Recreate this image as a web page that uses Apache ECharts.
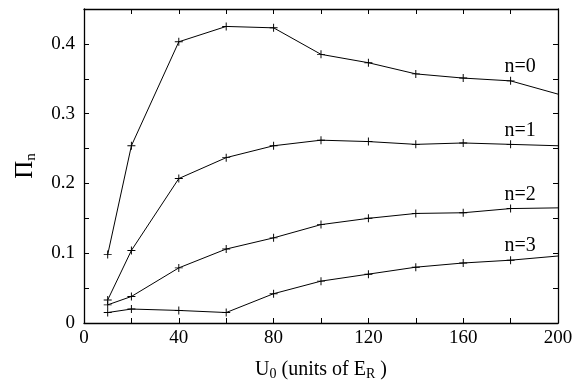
<!DOCTYPE html>
<html><head><meta charset="utf-8">
<script src="https://cdn.jsdelivr.net/npm/echarts@6/dist/echarts.min.js"></script>
<style>html,body{margin:0;padding:0;background:#fff}#c{width:587px;height:386px}</style>
</head><body><div id="c"></div>
<script>
var xValues = [10, 20, 40, 60, 80, 100, 120, 140, 160, 180, 200];
var n0 = [0.098, 0.254, 0.403, 0.425, 0.423, 0.385, 0.373, 0.357, 0.351, 0.347, 0.328];
var n1 = [0.033, 0.104, 0.207, 0.237, 0.254, 0.262, 0.260, 0.256, 0.258, 0.256, 0.254];
var n2 = [0.026, 0.038, 0.079, 0.106, 0.122, 0.141, 0.150, 0.157, 0.158, 0.164, 0.165];
var n3 = [0.015, 0.020, 0.018, 0.015, 0.042, 0.060, 0.070, 0.080, 0.086, 0.090, 0.096];
var seriesNames = ['n=0', 'n=1', 'n=2', 'n=3'];
var xTicks = [0, 40, 80, 120, 160, 200];
var yTicks = [0, 0.1, 0.2, 0.3, 0.4];

var font = 'Liberation Serif';
var cross = 'path://M0,4.4h10v1.2h-10z M4.4,0h1.2v10h-1.2z';
var labelAnchors = [[184, 0.367], [184, 0.275], [184, 0.184], [184, 0.110]];

function pairs(ys){
  return xValues.map(function(x,i){
    var item = {value: [x, ys[i]]};
    if (x === 200) item.symbol = 'none';
    return item;
  });
}
var all = [n0, n1, n2, n3];
var series = all.map(function(ys, k){
  return {
    type: 'line', name: seriesNames[k], data: pairs(ys),
    symbol: cross, symbolSize: 8, showAllSymbol: true,
    lineStyle: {color: '#000', width: 1},
    itemStyle: {color: '#000'},
    animation: false,
    markPoint: {
      symbol: 'circle', symbolSize: 0, silent: true,
      data: [{coord: labelAnchors[k], value: seriesNames[k]}],
      label: {show: true, position: 'inside', formatter: seriesNames[k], color: '#000', fontFamily: font, fontSize: 20}
    }
  };
});

function axisCommon(){
  return {
    axisLine: {show: true, onZero: false, lineStyle: {color: '#000', width: 1.3}},
    axisTick: {show: true, inside: true, length: 5, lineStyle: {color: '#000', width: 1}},
    splitLine: {show: false}
  };
}
var xMain = Object.assign(axisCommon(), {
  type: 'value', min: 0, max: 200, interval: 20, position: 'bottom',
  axisLabel: {color: '#000', fontFamily: font, fontSize: 19, margin: 6,
    formatter: function(v){ return xTicks.indexOf(v) >= 0 ? String(v) : ''; }},
  name: '{a|U}{s|0}{a| (units of E}{s|R}{a| )}', nameLocation: 'middle', nameGap: 36,
  nameTextStyle: {rich: {
    a: {fontFamily: font, fontSize: 20, color: '#000'},
    s: {fontFamily: font, fontSize: 14, color: '#000', verticalAlign: 'bottom', padding: [8,0,0,0]}
  }}
});
var xTop = Object.assign(axisCommon(), {
  type: 'value', min: 0, max: 200, interval: 20, position: 'top', axisLabel: {show: false}
});
var yMain = Object.assign(axisCommon(), {
  type: 'value', min: 0, max: 0.45, interval: 0.05, position: 'left',
  axisLabel: {color: '#000', fontFamily: font, fontSize: 19, margin: 9,
    formatter: function(v){
      for (var i=0;i<yTicks.length;i++){ if (Math.abs(v-yTicks[i])<1e-9) return v===0?'0':v.toFixed(1); }
      return '';
    }},
  name: '{a|Π}{s|n}', nameLocation: 'middle', nameGap: 45, nameRotate: 90,
  nameTextStyle: {rich: {
    a: {fontFamily: font, fontSize: 25, color: '#000'},
    s: {fontFamily: font, fontSize: 15, color: '#000', verticalAlign: 'bottom', padding: [12,0,0,0]}
  }}
});
var yRight = Object.assign(axisCommon(), {
  type: 'value', min: 0, max: 0.45, interval: 0.05, position: 'right', axisLabel: {show: false}
});

var chart = echarts.init(document.getElementById('c'), null, {renderer: 'canvas'});
chart.setOption({
  backgroundColor: '#fff',
  animation: false,
  grid: {left: 84, right: 29, top: 9, bottom: 54},
  xAxis: [xMain, xTop],
  yAxis: [yMain, yRight],
  series: series
});
</script></body></html>
